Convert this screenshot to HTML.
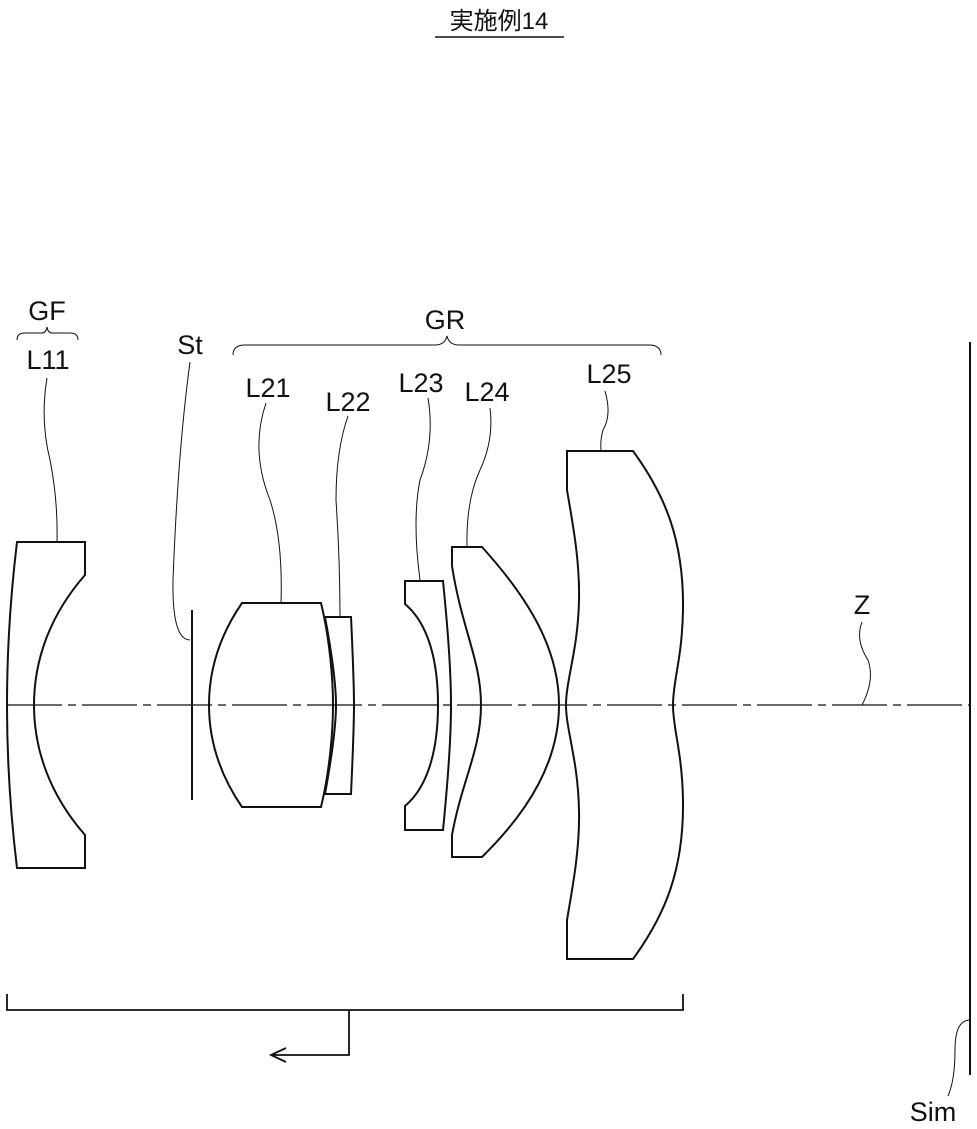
<!DOCTYPE html>
<html><head><meta charset="utf-8"><style>body{margin:0;background:#fff}svg{display:block}text{font-family:"Liberation Sans","Noto Sans CJK JP",sans-serif;fill:#111}</style></head><body>
<svg width="977" height="1129" viewBox="0 0 977 1129" xmlns="http://www.w3.org/2000/svg">
<g fill="none" stroke="#111" stroke-width="2">
<text x="499" y="29" font-size="24" text-anchor="middle" stroke="none">実施例14</text>
<line x1="435" y1="37" x2="564" y2="37" stroke-width="1.5"/>
<line x1="7" y1="705" x2="970" y2="705" stroke-width="1.3" stroke-dasharray="55 6 8 6"/>
<path d="M17,542 C10,600 7,650 7,705 C7,760 10,810 17,868 L85,868 L85,835 C50,795 34,750 34,705 C34,660 50,615 85,575 L85,542 Z"/>
<line x1="192" y1="610" x2="192" y2="800"/>
<path d="M242,603 L321,603 C330,640 333,680 333,705 C333,730 330,770 321,807 L242,807 C220,775 209,740 209,705 C209,670 220,635 242,603 Z"/>
<path d="M325,617 L351,617 C353,660 354,690 354,705 C354,720 353,750 351,794 L325,794 C333,750 336,720 336,705 C336,690 333,660 325,617 Z"/>
<path d="M405,581 L443,581 C449,640 451,680 451,705 C451,730 449,770 443,830 L405,830 L405,806 C430,785 438,745 438,705 C438,665 430,625 405,604 Z"/>
<path d="M452,547 L482,547 C530,600 559,650 559,705 C559,760 530,810 482,857 L452,857 L452,835 C462,780 481,750 481,705 C481,660 462,630 452,566 Z"/>
<path d="M567,451 L633,451 C665,495 684,540 683,610 C682,660 673,680 673,705 C673,730 682,750 683,800 C684,870 665,915 633,959 L567,959 L567,920 C572,890 580,850 579,810 C578,760 566,730 566,705 C566,680 578,650 579,600 C580,560 572,520 567,490 Z"/>
<line x1="970" y1="342" x2="970" y2="1075"/>
<path d="M7,994 L7,1010 L683,1010 L683,994 M349,1010 L349,1055 L271,1055 M286,1048 L271,1055 L286,1062" stroke-width="1.8"/>
</g>
<g fill="none" stroke="#111" stroke-width="1">
<path d="M47,378 Q40,420 50,460 Q58,500 57,542"/>
<path d="M190,640 Q172,640 173,580 Q178,450 190,362"/>
<path d="M266,403 Q250,450 270,500 Q283,540 281,603"/>
<path d="M348,416 Q336,450 336,500 Q340,560 340,617"/>
<path d="M428,398 Q435,440 420,480 Q412,520 420,580"/>
<path d="M490,408 Q494,440 480,470 Q466,500 467,547"/>
<path d="M605,391 Q612,415 603,430 Q600,440 601,451"/>
<path d="M862,622 Q855,640 868,660 Q875,680 862,705"/>
<path d="M970,1020 Q955,1020 955,1050 Q955,1080 948,1096"/>
<path d="M233,355 Q233,345 245,345 L435,345 Q445,345 447,336 Q449,345 459,345 L649,345 Q661,345 661,355"/>
<path d="M17,340 Q17,333 25,333 L42,333 Q46,333 47,327 Q48,333 52,333 L70,333 Q78,333 78,340"/>
</g>
<g font-size="27">
<text x="47" y="320" text-anchor="middle">GF</text>
<text x="48" y="369" text-anchor="middle">L11</text>
<text x="190" y="354" text-anchor="middle">St</text>
<text x="445" y="329" text-anchor="middle">GR</text>
<text x="268" y="397" text-anchor="middle">L21</text>
<text x="348" y="411" text-anchor="middle">L22</text>
<text x="421" y="392" text-anchor="middle">L23</text>
<text x="487" y="401" text-anchor="middle">L24</text>
<text x="609" y="383" text-anchor="middle">L25</text>
<text x="862" y="614" text-anchor="middle">Z</text>
<text x="933" y="1121" text-anchor="middle">Sim</text>
</g>
</svg>
</body></html>
